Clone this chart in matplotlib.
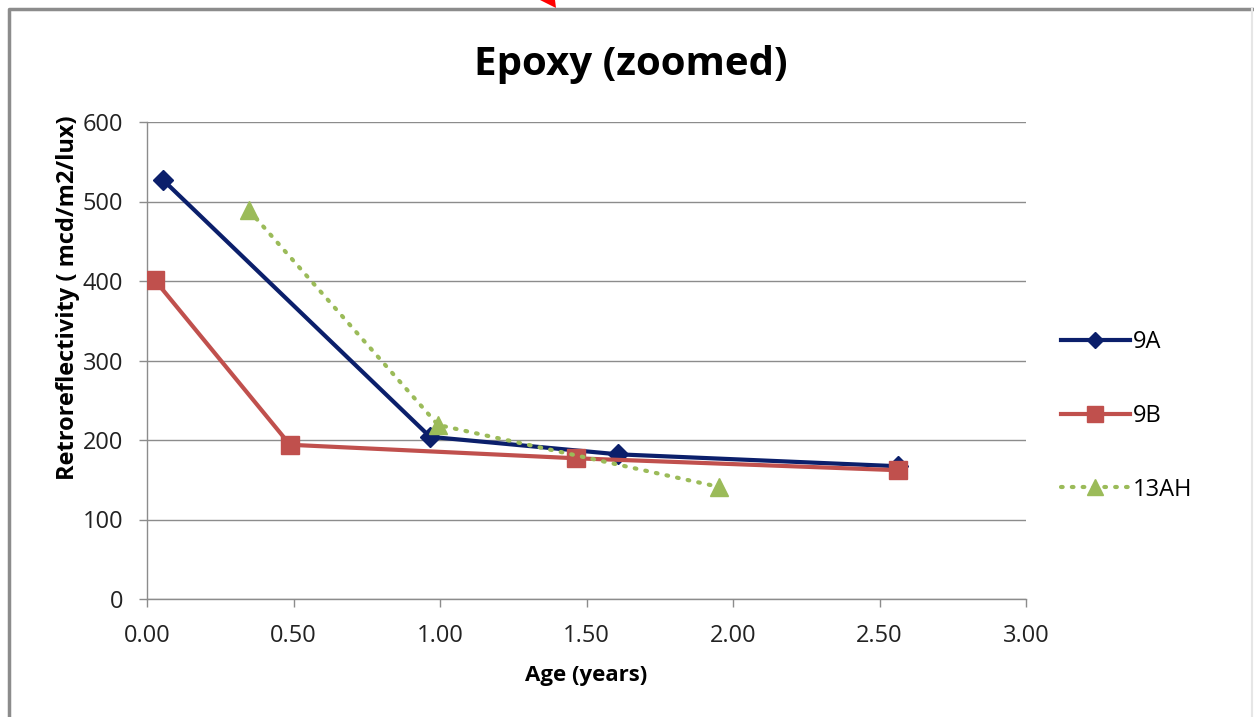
import matplotlib
matplotlib.use("Agg")
import matplotlib.pyplot as plt
from matplotlib.patches import Polygon
from matplotlib.lines import Line2D

plt.rcParams['font.family'] = ['Open Sans', 'DejaVu Sans']

# Series data: age in years vs retroreflectivity
age_9a = [0.055, 0.966, 1.607, 2.563]
retro_9a = [527, 204, 182, 167]
age_9b = [0.027, 0.488, 1.464, 2.563]
retro_9b = [401, 194, 177, 162]
age_13ah = [0.348, 0.993, 1.952]
retro_13ah = [489, 219, 141]

x_ticks = [0.0, 0.5, 1.0, 1.5, 2.0, 2.5, 3.0]
y_ticks = [0, 100, 200, 300, 400, 500, 600]

fig = plt.figure(figsize=(12.54, 7.17), dpi=100)
ax = fig.add_axes([147/1254, 1-599/717, (1026-147)/1254, (599-122)/717])

ax.plot(age_9a, retro_9a, color='#0B1F6B', lw=3, marker='D', ms=10,
        label='9A', zorder=3)
ax.plot(age_9b, retro_9b, color='#C0504D', lw=3, marker='s', ms=13,
        label='9B', zorder=3)
ax.plot(age_13ah, retro_13ah, color='#9BBB59', lw=3, ls=(0, (0.4, 2.2)),
        dash_capstyle='round', marker='^', ms=13, label='13AH', zorder=4)

ax.set_xlim(0, 3)
ax.set_ylim(0, 600)
ax.set_xticks(x_ticks)
ax.set_xticklabels([f"{t:.2f}" for t in x_ticks])
ax.set_yticks(y_ticks)
ax.grid(axis='y', color='#8C8C8C', lw=1)
ax.set_axisbelow(True)
for s in ['top', 'right']:
    ax.spines[s].set_visible(False)
for s in ['left', 'bottom']:
    ax.spines[s].set_color('#8C8C8C')
    ax.spines[s].set_linewidth(1)
ax.tick_params(axis='both', colors='#8C8C8C', labelcolor='#222222',
               labelsize=17, length=6, width=1)
ax.tick_params(axis='x', pad=12)
ax.tick_params(axis='y', pad=11)

ax.set_xlabel('Age (years)', fontsize=16, fontweight='bold', labelpad=12)
ax.set_ylabel('Retroreflectivity ( mcd/m2/lux)', fontsize=17,
              fontweight='bold')
ax.yaxis.set_label_coords(80/1254, 1-298/717, transform=fig.transFigure)
fig.text(0.503, 1-64/717, 'Epoxy (zoomed)', ha='center', va='center',
         fontsize=29, fontweight='bold')

fig.legend(loc='center left', bbox_to_anchor=(1040/1254, 1-416/717),
           frameon=False, fontsize=17, handlelength=2.9, labelspacing=2.1,
           handletextpad=0.15, markerscale=0.85)

# Chart frame and pointer mark
fig.add_artist(Line2D([9/1254, 9/1254, 1252/1254], [0, 1-9/717, 1-9/717],
                      transform=fig.transFigure, color='#8C8C8C', lw=2.5))
fig.add_artist(Line2D([1252/1254, 1252/1254], [0, 1-9/717],
                      transform=fig.transFigure, color='#E6E6E6', lw=1.5))
fig.add_artist(Polygon([(540/1254, 1.0), (555/1254, 1.0),
                        (556/1254, 1-8/717)],
                       closed=True, transform=fig.transFigure,
                       facecolor='#FF0000', edgecolor='none'))

fig.savefig('out.png', dpi=100)
